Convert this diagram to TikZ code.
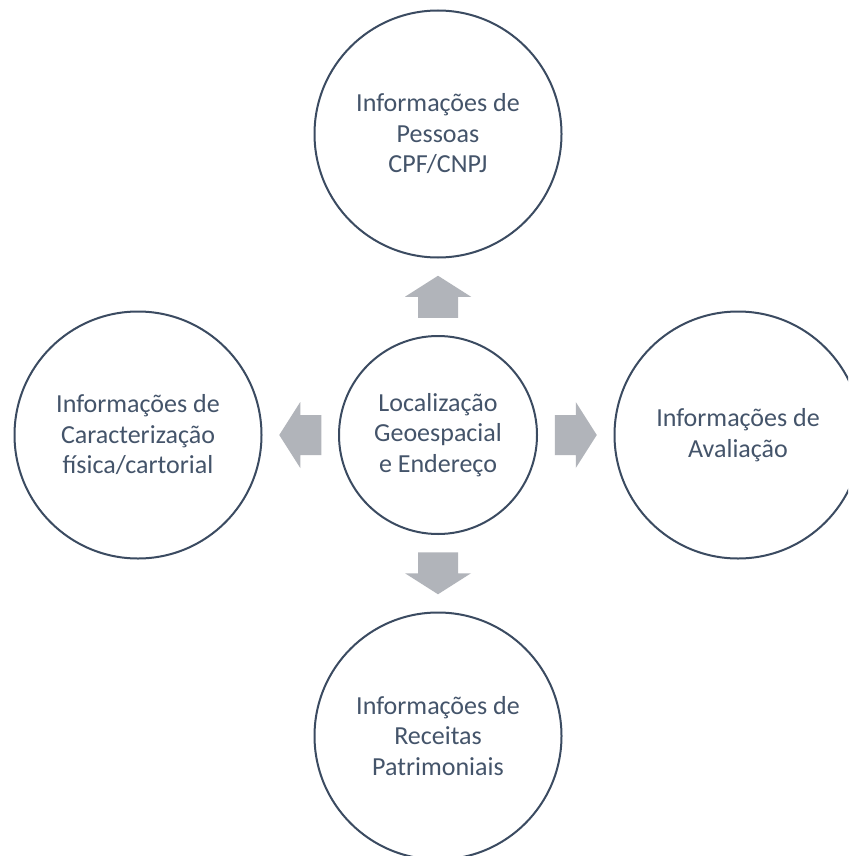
\documentclass[tikz,border=0pt]{standalone}
\usepackage{fontspec}
\setmainfont{Carlito}
\usetikzlibrary{calc}
\definecolor{ringcol}{HTML}{3B4B61}
\definecolor{txtcol}{HTML}{44546A}
\definecolor{arrowcol}{HTML}{B1B4BA}
\tikzset{
  bigcirc/.style={circle, draw=ringcol, line width=2pt, minimum size=247pt, inner sep=0pt,
    align=center, text=txtcol, font=\fontsize{26}{30.5}\selectfont},
  hubcirc/.style={bigcirc, minimum size=198pt},
  blockarrow/.pic={\fill[arrowcol] (-21,-20) -- (0,-20) -- (0,-33) -- (21,0) -- (0,33) -- (0,20) -- (-21,20) -- cycle;}
}
\begin{document}
\begin{tikzpicture}[x=1pt,y=-1pt]
\clip (0,0) rectangle (848,856);
\fill[white] (0,0) rectangle (848,856);
\node[hubcirc] (hub) at (438,435) {Localização\\Geoespacial\\e Endereço};
\node[bigcirc] (top) at (438,134) {Informações de\\Pessoas\\CPF/CNPJ};
\node[bigcirc] (left) at (138,435) {Informações de\\Caracterização\\física/cartorial};
\node[bigcirc] (right) at (738,435) {Informações de\\Avaliação};
\node[bigcirc] (bottom) at (438,736) {Informações de\\Receitas\\Patrimoniais};
\pic[rotate=90] at ($(hub.north)!0.5!(top.south)$) {blockarrow};
\pic[rotate=180] at ($(hub.west)!0.5!(left.east)$) {blockarrow};
\pic at ($(hub.east)!0.5!(right.west)$) {blockarrow};
\pic[rotate=-90] at ($(hub.south)!0.5!(bottom.north)$) {blockarrow};
\end{tikzpicture}
\end{document}
